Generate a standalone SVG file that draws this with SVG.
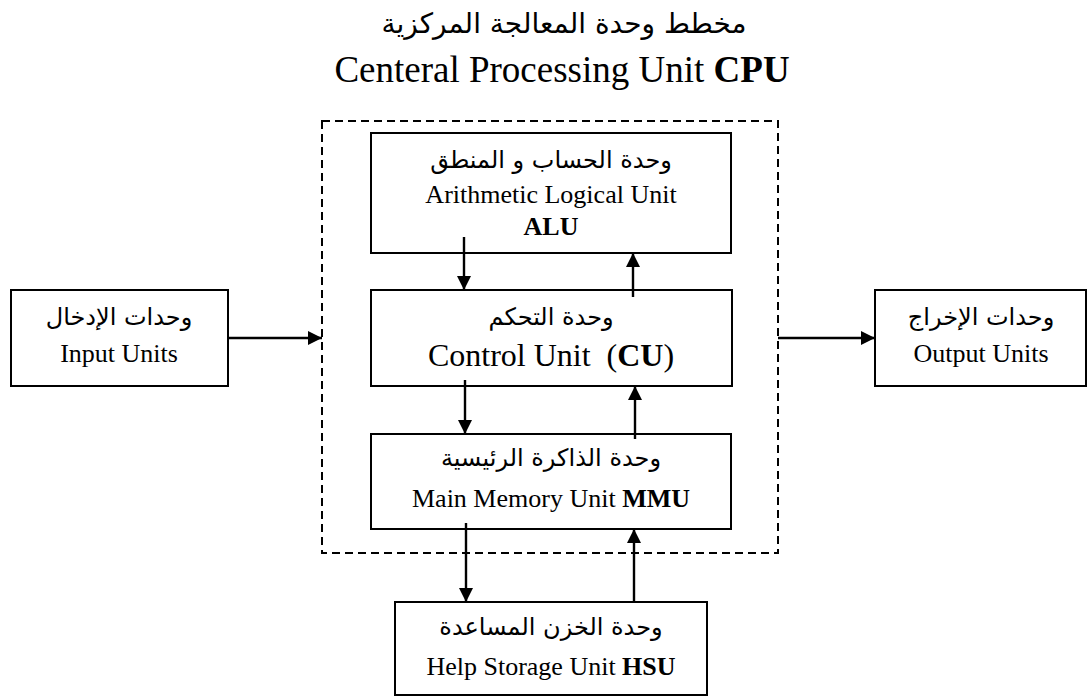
<svg xmlns="http://www.w3.org/2000/svg" width="1088" height="698" viewBox="0 0 1088 698">
<defs>
<style>
.box{fill:#fff;stroke:#000;stroke-width:2}
.dash{fill:none;stroke:#000;stroke-width:2;stroke-dasharray:8 5}
.line{stroke:#000;stroke-width:2.4;fill:none}
text{font-family:"Liberation Serif","DejaVu Sans",serif;fill:#000;text-anchor:middle}
.en{font-size:26px}
.ar{font-size:24px;font-family:"DejaVu Sans","Liberation Serif",sans-serif}
.b{font-weight:bold}
</style>
<marker id="ah" markerUnits="userSpaceOnUse" markerWidth="14" markerHeight="14" refX="14" refY="7" orient="auto">
<path d="M0,0 L14,7 L0,14 z" fill="#000"/>
</marker>
</defs>
<rect width="1088" height="698" fill="#fff"/>
<g id="title">
<text x="564" y="33" class="ar" style="font-size:28px" direction="rtl">مخطط وحدة المعالجة المركزية</text>
<text x="562" y="82" style="font-size:37px">Centeral Processing Unit <tspan class="b">CPU</tspan></text>
</g>
<g id="cpu">
<rect x="322" y="121" width="456" height="432" class="dash"/>
</g>
<g id="alu">
<rect x="371" y="133" width="360" height="120" class="box"/>
<text x="551" y="168" class="ar" direction="rtl">وحدة الحساب و المنطق</text>
<text x="551" y="203" class="en">Arithmetic Logical Unit</text>
<text x="551" y="235" class="en b">ALU</text>
</g>
<g id="cu">
<rect x="371" y="290" width="361" height="96" class="box"/>
<text x="551" y="325" class="ar" direction="rtl">وحدة التحكم</text>
<text x="551" y="366" style="font-size:32px;white-space:pre" xml:space="preserve">Control Unit  (<tspan class="b">CU</tspan>)</text>
</g>
<g id="mmu">
<rect x="371" y="434" width="360" height="95" class="box"/>
<text x="551" y="466" class="ar" direction="rtl">وحدة الذاكرة الرئيسية</text>
<text x="551" y="507" class="en">Main Memory Unit <tspan class="b">MMU</tspan></text>
</g>
<g id="hsu">
<rect x="395" y="602" width="312" height="93" class="box"/>
<text x="551" y="635" class="ar" direction="rtl">وحدة الخزن المساعدة</text>
<text x="551" y="675" class="en">Help Storage Unit <tspan class="b">HSU</tspan></text>
</g>
<g id="input">
<rect x="11" y="290" width="217" height="96" class="box"/>
<text x="119" y="325" class="ar" direction="rtl">وحدات الإدخال</text>
<text x="119" y="362" class="en">Input Units</text>
</g>
<g id="output">
<rect x="875" y="290" width="211" height="96" class="box"/>
<text x="981" y="325" class="ar" direction="rtl">وحدات الإخراج</text>
<text x="981" y="362" class="en">Output Units</text>
</g>
<g id="connectors">
<line x1="464" y1="237" x2="464" y2="290" class="line" marker-end="url(#ah)"/>
<line x1="633" y1="297" x2="633" y2="253" class="line" marker-end="url(#ah)"/>
<line x1="465" y1="380" x2="465" y2="434" class="line" marker-end="url(#ah)"/>
<line x1="635" y1="439" x2="635" y2="386" class="line" marker-end="url(#ah)"/>
<line x1="466" y1="523" x2="466" y2="602" class="line" marker-end="url(#ah)"/>
<line x1="634" y1="602" x2="634" y2="529" class="line" marker-end="url(#ah)"/>
<line x1="228" y1="338" x2="322" y2="338" class="line" marker-end="url(#ah)"/>
<line x1="778" y1="338" x2="875" y2="338" class="line" marker-end="url(#ah)"/>
</g>
</svg>
